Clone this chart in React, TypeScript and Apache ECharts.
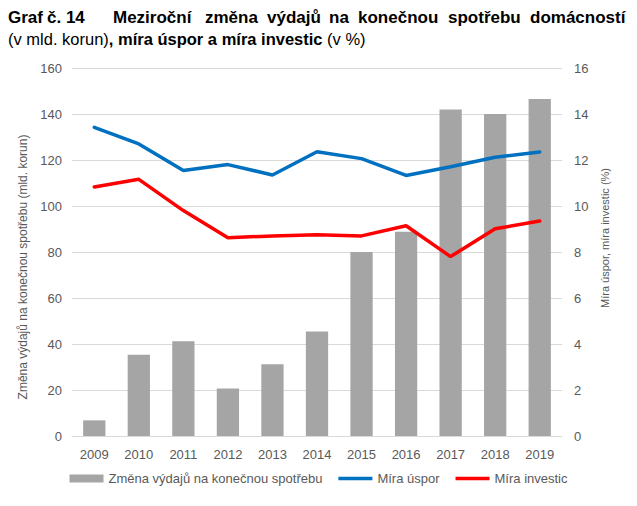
import React, { useEffect, useRef } from "react";
import * as echarts from "echarts";

const years = ["2009", "2010", "2011", "2012", "2013", "2014", "2015", "2016", "2017", "2018", "2019"];
const spendingChange = [6.8, 35.3, 41.2, 20.6, 31.2, 45.4, 80, 88.8, 142, 140, 146.5];
const savingRate = [13.42, 12.7, 11.54, 11.8, 11.35, 12.36, 12.06, 11.33, 11.71, 12.12, 12.35];
const investmentRate = [10.83, 11.16, 9.8, 8.62, 8.7, 8.75, 8.7, 9.14, 7.8, 9.01, 9.35];

const seriesNames = ["Změna výdajů na konečnou spotřebu", "Míra úspor", "Míra investic"];
const leftAxisName = "Změna výdajů na konečnou spotřebu (mld. korun)";
const rightAxisName = "Míra úspor, míra investic (%)";
const titleWords = ["Graf", "č. 14", "Meziroční", "změna", "výdajů", "na", "konečnou", "spotřebu", "domácností"];
const titleWordX = [8, 47, 113, 205, 267, 329, 358, 448, 530];

const FONT = "'Liberation Sans', Arial, sans-serif";
const LABEL = "#595959";
const LINE_ICON =
  "path://M0,0L0.01,0L0.01,0.01Z M0,2.2H34V5.8H0Z M33.99,8L34,8L34,7.99Z";

export default function App() {
  const ref = useRef<HTMLDivElement>(null);
  useEffect(() => {
    if (!ref.current) return;
    const chart = echarts.init(ref.current, null, { renderer: "svg" });
    const titleEls: any[] = titleWords.map((w, i) => ({
      type: "text",
      x: titleWordX[i],
      y: 17,
      style: { text: w, font: `bold 17px ${FONT}`, fill: "#000", verticalAlign: "middle" },
    }));
    titleEls.push({
      type: "text",
      x: 8,
      y: 39,
      style: {
        text: "{n|(v mld. korun)}{b|, míra úspor a míra investic}{n| (v %)}",
        verticalAlign: "middle",
        rich: {
          n: { font: `16.5px ${FONT}`, fill: "#000" },
          b: { font: `bold 16.5px ${FONT}`, fill: "#000" },
        },
      },
    });
    chart.setOption({
      animation: false,
      textStyle: { fontFamily: FONT },
      graphic: titleEls,
      grid: { left: 72, right: 75, top: 68, bottom: 70 },
      legend: {
        bottom: 16,
        left: "center",
        itemGap: 16,
        itemWidth: 34,
        itemHeight: 8,
        textStyle: { color: LABEL, fontSize: 13, fontFamily: FONT },
        data: [
          { name: seriesNames[0], icon: "rect", itemStyle: { color: "#a5a5a5" } },
          { name: seriesNames[1], icon: LINE_ICON, itemStyle: { color: "#0070c0" } },
          { name: seriesNames[2], icon: LINE_ICON, itemStyle: { color: "#ff0000" } },
        ],
      },
      xAxis: {
        type: "category",
        data: years,
        axisLine: { lineStyle: { color: "#d9d9d9", width: 1 } },
        axisTick: { show: false },
        axisLabel: { color: LABEL, fontSize: 13, margin: 12 },
      },
      yAxis: [
        {
          type: "value",
          min: 0,
          max: 160,
          interval: 20,
          name: leftAxisName,
          nameLocation: "middle",
          nameGap: 39,
          nameTextStyle: { color: LABEL, fontSize: 12, padding: [0, 30, 0, 0] },
          axisLabel: { color: LABEL, fontSize: 13, margin: 10 },
          splitLine: { lineStyle: { color: "#d9d9d9" } },
          axisLine: { show: false },
          axisTick: { show: false },
        },
        {
          type: "value",
          min: 0,
          max: 16,
          interval: 2,
          name: rightAxisName,
          nameLocation: "middle",
          nameGap: 37,
          nameRotate: 90,
          nameTextStyle: { color: LABEL, fontSize: 11, padding: [0, 0, 0, 28] },
          axisLabel: { color: LABEL, fontSize: 13, margin: 12 },
          splitLine: { show: false },
          axisLine: { show: false },
          axisTick: { show: false },
        },
      ],
      series: [
        {
          name: seriesNames[0],
          type: "bar",
          data: spendingChange,
          barWidth: "50%",
          itemStyle: { color: "#a5a5a5" },
          yAxisIndex: 0,
        },
        {
          name: seriesNames[1],
          type: "line",
          data: savingRate,
          yAxisIndex: 1,
          symbol: "none",
          lineStyle: { color: "#0070c0", width: 3.5, cap: "round" },
          itemStyle: { color: "#0070c0" },
        },
        {
          name: seriesNames[2],
          type: "line",
          data: investmentRate,
          yAxisIndex: 1,
          symbol: "none",
          lineStyle: { color: "#ff0000", width: 3.5, cap: "round" },
          itemStyle: { color: "#ff0000" },
        },
      ],
    });
    return () => chart.dispose();
  }, []);
  return (
    <div
      ref={ref}
      style={{ position: "fixed", left: 0, top: 0, width: 637, height: 506, background: "#fff" }}
    />
  );
}
